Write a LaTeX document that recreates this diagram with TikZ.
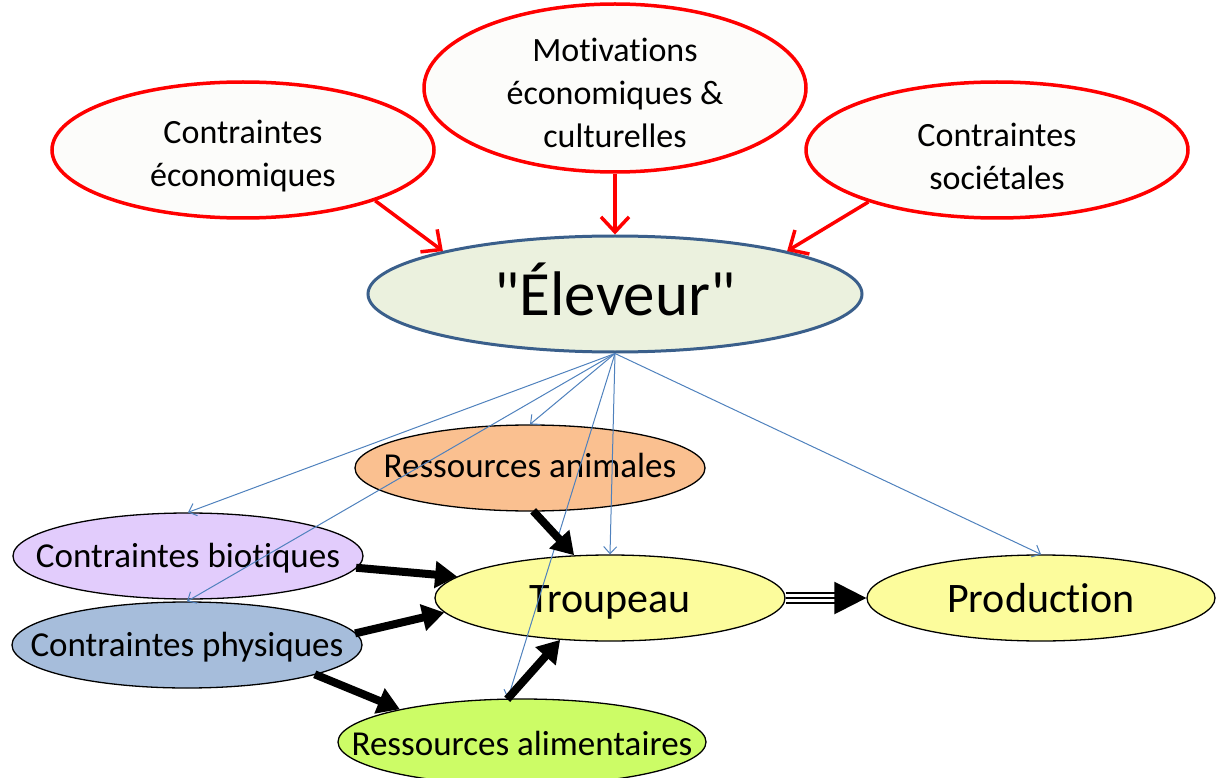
\documentclass[tikz,border=0pt]{standalone}
\usepackage{fontspec}
\newfontfamily\calib{Carlito}[Ligatures=NoCommon]
\usetikzlibrary{shapes.geometric,arrows.meta,calc}
\definecolor{redline}{HTML}{FF0000}
\definecolor{topfill}{HTML}{FCFCFA}
\definecolor{elevfill}{HTML}{EBF1DE}
\definecolor{elevline}{HTML}{3A5F8B}
\definecolor{animfill}{HTML}{FAC090}
\definecolor{biofill}{HTML}{E2CCFC}
\definecolor{physfill}{HTML}{A6BDDB}
\definecolor{yelfill}{HTML}{FCFC9C}
\definecolor{alimfill}{HTML}{CCFC66}
\definecolor{bluearrow}{HTML}{4F81BD}
\tikzset{
  ell/.style={ellipse, inner sep=0pt},
  topell/.style={ell, draw=redline, line width=3.5pt, fill=topfill, minimum width=382pt},
  lowell/.style={ell, draw=black, line width=1.3pt, minimum width=350pt, minimum height=86pt},
  toptext/.style={align=center, inner sep=0pt, font=\calib\fontsize{34}{43}\selectfont},
  lowtext/.style={inner sep=0pt, anchor=base, font=\calib\fontsize{35}{42}\selectfont},
  bigtext/.style={inner sep=0pt, anchor=base, font=\calib\fontsize{42}{48}\selectfont},
  redarrow/.style={draw=redline, line width=3.5pt, -{Straight Barb[length=15pt,width=28pt,line width=3.5pt]}},
  bluearr/.style={draw=bluearrow, line width=1pt, -{Straight Barb[length=7pt,width=13pt]}},
  blackarr/.style={draw=black, line width=8pt, -{Triangle[length=22pt,width=26pt]}, shorten <=-1pt}
}
\begin{document}
\begin{tikzpicture}[x=1pt,y=-1pt]
\useasboundingbox (0,0) rectangle (1216,778);
% top nodes
\node[topell, minimum height=136pt] (CE) at (243,150) {};
\node[toptext] (CEt) at (243,156) {Contraintes\\économiques};
\node[topell, minimum height=168pt] (MO) at (615,88) {};
\node[toptext] (MOt) at (615,93) {Motivations\\économiques \&\\culturelles};
\node[topell, minimum height=136pt] (CS) at (997,150) {};
\node[toptext] (CSt) at (997,156) {Contraintes\\sociétales};
% eleveur
\node[ell, draw=elevline, line width=3pt, fill=elevfill, minimum width=494pt, minimum height=116pt] (E) at (615,294) {};
\node[inner sep=0pt, anchor=base, font=\calib\fontsize{63}{70}\selectfont] (Et) at (615,315) {"Éleveur"};
% lower nodes
\node[lowell, fill=animfill] (RA) at (530,468) {};
\node[lowtext] (RAt) at (530,477) {Ressources animales};
\node[lowell, fill=biofill] (B) at (188,556) {};
\node[lowtext] (Bt) at (188,567) {Contraintes biotiques};
\node[lowell, fill=physfill] (P) at (187,645) {};
\node[lowtext] (Pt) at (187,656) {Contraintes physiques};
\node[lowell, fill=yelfill] (T) at (610,598) {};
\node[bigtext] (Tt) at (610,612) {Troupeau};
\node[lowell, fill=yelfill, minimum width=348pt] (Pr) at (1041,598) {};
\node[bigtext] (Prt) at (1041,612) {Production};
\node[lowell, fill=alimfill, minimum width=368pt] (A) at (522,742) {};
\node[lowtext] (At) at (522,755) {Ressources alimentaires};
% red arrows
\draw[redarrow] (CE.-21) -- (E.166);
\draw[redarrow] (MO.south) -- (E.north);
\draw[redarrow] (CS.202) -- (E.14);
% blue arrows
\draw[bluearr] (E.south) -- (B.north);
\draw[bluearr] (E.south) -- (P.north);
\draw[bluearr] (E.south) -- (RA.north);
\draw[bluearr] (E.south) -- (A.108);
\draw[bluearr] (E.south) -- (T.north);
\draw[bluearr] (E.south) -- (Pr.north);
% black arrows
\draw[blackarr] (RA.-85) -- (T.130);
\draw[blackarr] (B.-4) -- (T.172);
\draw[blackarr] (P.4) -- (T.185);
\draw[blackarr] (P.-13) -- (A.165);
\draw[blackarr] (A.108) -- (T.220);
% triple arrow
\draw[line width=12pt, shorten >=30pt] (T.east) -- (Pr.west);
\draw[white, line width=7.5pt, shorten >=29pt] (T.east) -- (Pr.west);
\draw[line width=2.5pt, -{Triangle[length=32pt,width=32pt]}] (T.east) -- (Pr.west);
\end{tikzpicture}
\end{document}
